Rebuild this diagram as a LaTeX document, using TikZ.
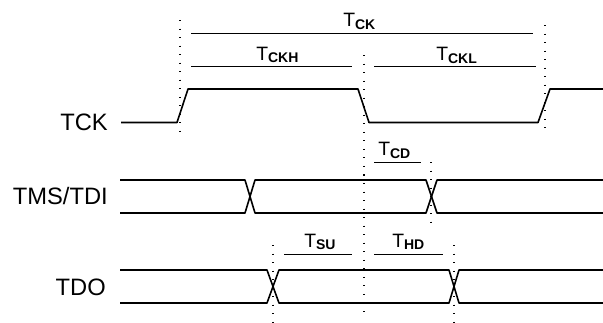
\documentclass[tikz,border=0pt]{standalone}
\usepackage{fontspec}
\setmainfont{Liberation Sans}
\begin{document}
\begin{tikzpicture}[x=0.75pt,y=-0.75pt,
  sig/.style={line width=1.2pt,line join=round},
  tline/.style={line width=1.1pt},
  guide/.style={line width=0.8pt,dash pattern=on 0.8pt off 5.6pt},
  siglabel/.style={anchor=base east,inner sep=0pt,font=\fontsize{17.8}{20}\selectfont},
  tlabel/.style={anchor=base west,inner sep=0pt,font=\fontsize{14.5}{16}\selectfont}]
\useasboundingbox (0,0) rectangle (603,322);
\newcommand\tsub[1]{T\raisebox{-2pt}{\fontsize{10.5}{12}\selectfont\bfseries #1}}
% signal labels
\node[siglabel] (lck) at (108,130) {TCK};
\node[siglabel] (ltms) at (108,204) {TMS/TDI};
\node[siglabel] (ltdo) at (106,295) {TDO};
% TCK waveform
\draw[sig] (121,122.5) -- (177,122.5) -- (188,89) -- (358,89) -- (369,122.5) -- (538,122.5) -- (550,89) -- (603,89);
% TMS/TDI bus
\draw[sig] (120,180) -- (245,180) -- (255,213) -- (426,213) -- (437,180) -- (603,180);
\draw[sig] (120,213) -- (245,213) -- (255,180) -- (426,180) -- (437,213) -- (603,213);
% TDO bus
\draw[sig] (120,270) -- (267,270) -- (279,303) -- (449,303) -- (459,270) -- (603,270);
\draw[sig] (120,303) -- (267,303) -- (279,270) -- (449,270) -- (459,303) -- (603,303);
% dotted guides
\draw[guide] (180,20) -- (180,135);
\draw[guide] (364,55) -- (364,313);
\draw[guide] (545,25) -- (545,135);
\draw[guide] (431,162) -- (431,230);
\draw[guide] (273,245) -- (273,322);
\draw[guide] (454,245) -- (454,322);
% timing lines
\draw[tline] (191,33.3) -- (533,33.3);
\draw[tline] (191,66.5) -- (352,66.5);
\draw[tline] (374,66.5) -- (536,66.5);
\draw[tline] (374,162.7) -- (421,162.7);
\draw[tline] (284,254.3) -- (352,254.3);
\draw[tline] (374,254.3) -- (443,254.3);
% timing labels
\node[tlabel] (tck) at (343,26.5) {\tsub{CK}};
\node[tlabel] (tckh) at (256,60) {\tsub{CKH}};
\node[tlabel] (tckl) at (436,60.5) {\tsub{CKL}};
\node[tlabel] (tcd) at (378,155.5) {\tsub{CD}};
\node[tlabel] (tsu) at (304,247) {\tsub{SU}};
\node[tlabel] (thd) at (392,247) {\tsub{HD}};
\end{tikzpicture}
\end{document}
